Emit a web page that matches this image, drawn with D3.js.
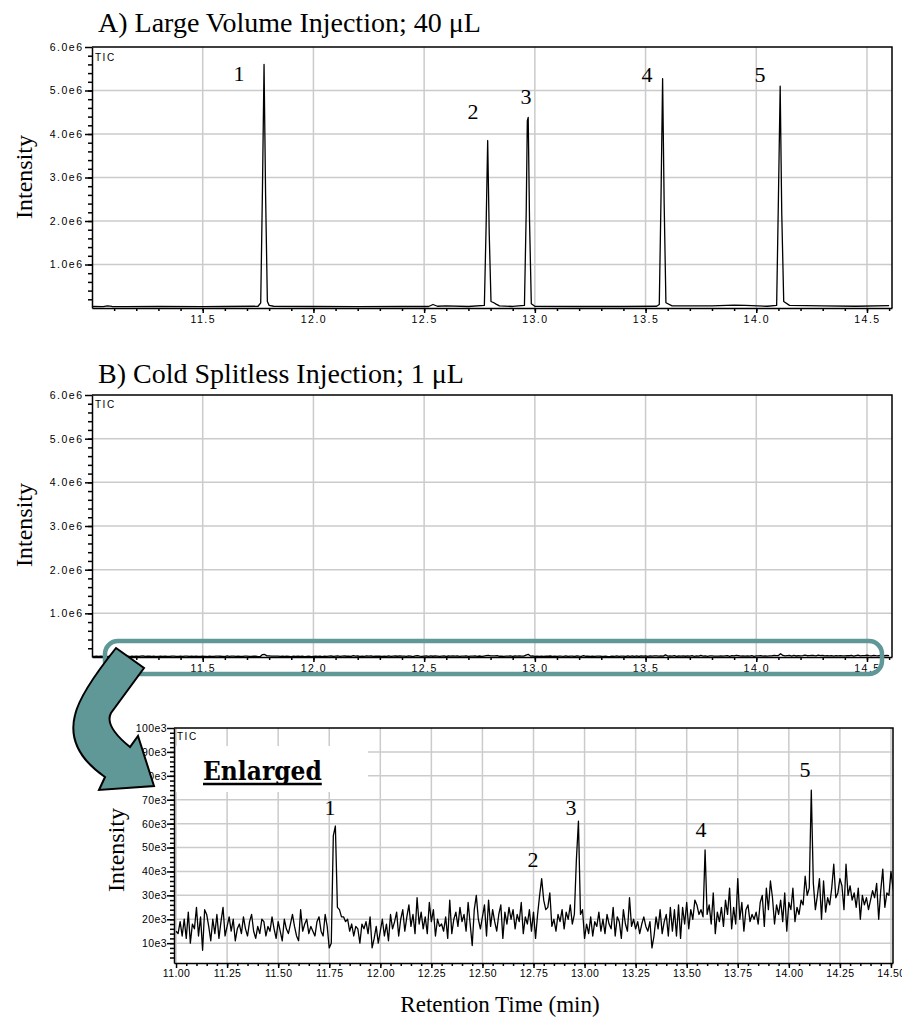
<!DOCTYPE html>
<html><head><meta charset="utf-8">
<script src="https://cdn.jsdelivr.net/npm/d3@7"></script>
<style>body{margin:0;background:#fff}</style>
</head><body>
<svg id="c" width="902" height="1022"></svg>
<script>
// ---------------- DATA ----------------
// Panel A (Large volume injection, 40 µL): retention time (min) and TIC intensity
const timesA = [11.000,11.05,11.07,11.09,11.15,11.30,11.50,11.60,11.75,11.762,11.770,11.777,11.784,11.792,11.80,11.82,
  12.00,12.20,12.40,12.52,12.54,12.56,12.60,12.70,12.772,12.780,12.787,12.794,12.802,12.815,12.825,12.84,12.90,
  12.953,12.961,12.966,12.970,12.976,12.984,13.00,13.20,13.40,13.55,13.562,13.570,13.577,13.584,13.592,13.62,
  13.80,13.90,13.95,14.05,14.092,14.100,14.108,14.115,14.124,14.15,14.30,14.45,14.60];
const intensA = [35e3,30e3,50e3,35e3,30e3,35e3,30e3,35e3,40e3,120e3,2.8e6,5.6e6,2.6e6,150e3,60e3,40e3,
  35e3,30e3,35e3,35e3,80e3,40e3,50e3,35e3,60e3,1.9e6,3.85e6,1.7e6,150e3,120e3,90e3,50e3,35e3,
  60e3,2.2e6,4.3e6,4.38e6,2.0e6,100e3,40e3,35e3,35e3,40e3,80e3,2.6e6,5.27e6,2.4e6,120e3,50e3,
  50e3,65e3,60e3,40e3,60e3,2.5e6,5.1e6,2.2e6,150e3,60e3,50e3,40e3,55e3];

// Panel B (Cold splitless, 1 µL): sampled every 0.01 min from 11.00 min, intensity in thousands
const sampleStartB = 11.00, sampleStepB = 0.01;
const intensB_k = [
  15,14,19,13,20,12,23,10,18,16,
  25,13,21,7,24,22,17,11,20,14,
  22,12,19,25,13,17,21,15,20,11,
  16,18,14,21,16,13,19,22,15,12,
  17,14,20,19,13,17,15,21,16,12,
  19,15,11,20,16,14,18,22,17,13,
  11,24,15,18,20,14,17,15,13,19,
  21,15,13,22,17,8,10,55,59,25,
  24,21,21,19,20,15,18,13,17,16,
  10,18,16,19,14,21,8,12,17,10,
  15,20,13,18,11,22,16,19,23,13,
  20,24,15,21,26,17,22,14,29,18,
  23,16,21,14,27,19,24,13,20,17,
  18,15,21,12,28,14,20,23,17,25,
  19,22,15,27,18,9,24,30,20,16,
  21,26,13,28,17,24,19,15,22,26,
  12,23,18,25,20,24,16,22,19,27,
  14,21,18,24,15,23,12,22,30,37,
  28,24,25,31,17,20,15,22,19,24,
  16,23,20,26,18,22,45,61,22,24,
  12,18,14,21,13,19,17,23,15,20,
  14,22,18,16,25,13,21,19,12,24,
  18,15,29,17,20,16,19,14,18,21,
  17,15,19,8,13,21,16,24,14,19,
  22,13,25,15,24,13,26,12,25,18,
  27,16,24,20,28,26,22,24,21,49,
  22,26,18,31,14,23,19,25,17,28,
  22,33,16,25,18,37,20,27,15,24,
  26,19,22,20,23,18,27,30,17,33,
  24,36,29,18,26,22,28,19,31,15,
  27,24,33,19,25,22,28,26,38,30,
  33,74,35,24,30,37,20,36,23,29,
  26,33,43,29,31,37,34,24,43,30,
  34,28,31,25,33,20,30,26,29,24,
  28,32,29,35,20,32,41,25,31,30,
  40,33,28,36,30,27,34,31,29,35,32];

// ticks
const xTicksAB = [11.5,12.0,12.5,13.0,13.5,14.0,14.5];
const yTicksAB = [1e6,2e6,3e6,4e6,5e6,6e6];
const xTicksEnl = [11.00,11.25,11.50,11.75,12.00,12.25,12.50,12.75,13.00,13.25,13.50,13.75,14.00,14.25,14.50];
const yTicksEnl = [10e3,20e3,30e3,40e3,50e3,60e3,70e3,80e3,90e3,100e3];

// peak labels: [label, time, intensity at text baseline]
const peaksA = [["1",11.664,5.22e6],["2",12.721,4.34e6],["3",12.960,4.69e6],["4",13.507,5.20e6],["5",14.017,5.20e6]];
const peaksEnl = [["1",11.754,63.6e3],["2",12.747,41.9e3],["3",12.933,63.6e3],["4",13.570,54.4e3],["5",14.079,79.5e3]];

// ---------------- DRAW ----------------
const svg = d3.select("#c");
const serif = "'Liberation Serif','Times New Roman',serif";
const sans = "'Liberation Sans',Arial,sans-serif";

const dataA = timesA.map((t,i)=>[t,intensA[i]]);
const dataB = intensB_k.map((v,i)=>[sampleStartB + i*sampleStepB, v*1e3]);

function panel(o){
  const g = svg.append("g");
  const x = d3.scaleLinear().domain(o.xDomain).range([o.left,o.right]);
  const y = d3.scaleLinear().domain(o.yDomain).range([o.bottom,o.top]);
  const id = "clip_"+o.name;
  svg.append("clipPath").attr("id",id).append("rect")
    .attr("x",o.left).attr("y",o.top).attr("width",o.right-o.left).attr("height",o.bottom-o.top);
  g.append("g").selectAll("line").data(o.xGrid).join("line")
    .attr("x1",d=>x(d)).attr("x2",d=>x(d)).attr("y1",o.top).attr("y2",o.bottom)
    .attr("stroke","#cbcbcb").attr("stroke-width",1.5);
  g.append("g").selectAll("line").data(o.yGrid).join("line")
    .attr("x1",o.left).attr("x2",o.right).attr("y1",d=>y(d)).attr("y2",d=>y(d))
    .attr("stroke","#cbcbcb").attr("stroke-width",1.5);
  if (o.whiteBox) o.whiteBox(g);
  g.append("path").datum(o.data).attr("clip-path",`url(#${id})`)
    .attr("d",d3.line().x(d=>x(d[0])).y(d=>y(d[1])))
    .attr("fill","none").attr("stroke","#000").attr("stroke-width",1.3).attr("stroke-linejoin","round");
  g.append("path").attr("d",`M${o.left},${o.top}H${o.right}V${o.bottom}`)
    .attr("fill","none").attr("stroke","#000").attr("stroke-width",1.5);
  const styleAx = sel=>{sel.selectAll("line,path").attr("stroke","#000").attr("stroke-width",1.5);
    sel.selectAll("text").attr("font-family",sans).attr("font-size",o.tickFont).attr("letter-spacing",o.tickSpacing).attr("fill","#000");};
  g.append("g").attr("transform",`translate(0,${o.bottom})`)
    .call(d3.axisBottom(x).tickValues(o.xMinor).tickFormat("").tickSize(3).tickSizeOuter(0))
    .call(s=>s.select(".domain").remove()).call(styleAx);
  g.append("g").attr("transform",`translate(0,${o.bottom})`)
    .call(d3.axisBottom(x).tickValues(o.xTicks).tickFormat(o.xFmt).tickSize(5).tickPadding(o.xPad).tickSizeOuter(0))
    .call(styleAx);
  g.append("g").attr("transform",`translate(${o.left},0)`)
    .call(d3.axisLeft(y).tickValues(o.yMinor).tickFormat("").tickSize(4).tickSizeOuter(0))
    .call(s=>s.select(".domain").remove()).call(styleAx);
  g.append("g").attr("transform",`translate(${o.left},0)`)
    .call(d3.axisLeft(y).tickValues(o.yTicks).tickFormat(o.yFmt).tickSize(7).tickPadding(o.yPad).tickSizeOuter(0))
    .call(styleAx);
  g.append("text").attr("x",o.left+3).attr("y",o.top+o.ticOff).text("TIC")
    .attr("font-family",sans).attr("font-size",10).attr("letter-spacing",1.5);
  if (o.peaks) g.append("g").selectAll("text").data(o.peaks).join("text")
    .attr("x",d=>x(d[1])).attr("y",d=>y(d[2])).attr("text-anchor","middle")
    .attr("font-family",serif).attr("font-size",22).text(d=>d[0]);
  return {x,y,g};
}

const fmtAB = d=>d.toFixed(1);
const fmtYAB = d=>(d/1e6).toFixed(1)+"e6";

panel({name:"A",xDomain:[11.0,14.613],yDomain:[0,6e6],left:92,right:892,top:47,bottom:308,
  xGrid:xTicksAB,yGrid:yTicksAB.slice(0,5),data:dataA,
  xTicks:xTicksAB,xMinor:d3.range(11.1,14.61,0.1),xFmt:fmtAB,
  yTicks:yTicksAB,yMinor:d3.range(2e5,6e6,2e5),yFmt:fmtYAB,
  tickFont:10.5,tickSpacing:1.5,xPad:3,yPad:1.5,ticOff:14,peaks:peaksA});

panel({name:"B",xDomain:[11.0,14.613],yDomain:[0,6e6],left:92,right:892,top:395,bottom:657,
  xGrid:xTicksAB,yGrid:yTicksAB.slice(0,5),data:dataB,
  xTicks:xTicksAB,xMinor:d3.range(11.1,14.61,0.1),xFmt:fmtAB,
  yTicks:yTicksAB,yMinor:d3.range(2e5,6e6,2e5),yFmt:fmtYAB,
  tickFont:10.5,tickSpacing:1.5,xPad:3,yPad:1.5,ticOff:13});

panel({name:"E",xDomain:[10.99,14.51],yDomain:[1.7e3,100e3],left:174,right:893,top:728,bottom:963,
  xGrid:xTicksEnl,yGrid:yTicksEnl.slice(0,9),data:dataB,
  xTicks:xTicksEnl,xMinor:d3.range(11.05,14.51,0.05),xFmt:d=>d.toFixed(2),
  yTicks:yTicksEnl,yMinor:d3.range(4e3,100e3,2e3),yFmt:d=>(d/1e3)+"e3",
  tickFont:10.5,tickSpacing:0.4,xPad:2,yPad:0,ticOff:12,peaks:peaksEnl,
  whiteBox:g=>g.append("rect").attr("x",176).attr("y",746).attr("width",192).attr("height",46).attr("fill","#fff")});

const enl = svg.append("text").attr("x",203).attr("y",780).text("Enlarged")
  .attr("font-family","'DejaVu Serif Condensed','DejaVu Serif',serif").attr("font-stretch","condensed")
  .attr("font-weight","bold").attr("font-size",26);
const bb = enl.node().getBBox();
svg.append("line").attr("x1",bb.x).attr("x2",bb.x+bb.width).attr("y1",784).attr("y2",784)
  .attr("stroke","#000").attr("stroke-width",2.5);

svg.append("text").attr("x",98).attr("y",32).text("A) Large Volume Injection; 40 μL")
  .attr("font-family",serif).attr("font-size",28);
svg.append("text").attr("x",98).attr("y",383).text("B) Cold Splitless Injection; 1 μL")
  .attr("font-family",serif).attr("font-size",28);
[[32,177],[32,525],[124,850]].forEach(p=>{
  svg.append("text").attr("transform",`translate(${p[0]},${p[1]}) rotate(-90)`).attr("text-anchor","middle")
    .attr("font-family",serif).attr("font-size",24).text("Intensity");
});
svg.append("text").attr("x",500).attr("y",1012).attr("text-anchor","middle")
  .attr("font-family",serif).attr("font-size",23).text("Retention Time (min)");

const teal = "#609898";
svg.append("rect").attr("x",105).attr("y",641).attr("width",777).attr("height",33).attr("rx",13)
  .attr("fill","none").attr("stroke",teal).attr("stroke-width",4.5);
svg.append("path")
  .attr("d","M116,648 L144,668 L111,713 Q104,726 130,747 L138,736 L154,786 L99,790 L105,777 Q66,750 75,715 Q80,693 116,648 Z")
  .attr("fill",teal).attr("stroke","#000").attr("stroke-width",2).attr("stroke-linejoin","miter");
</script>
</body></html>
